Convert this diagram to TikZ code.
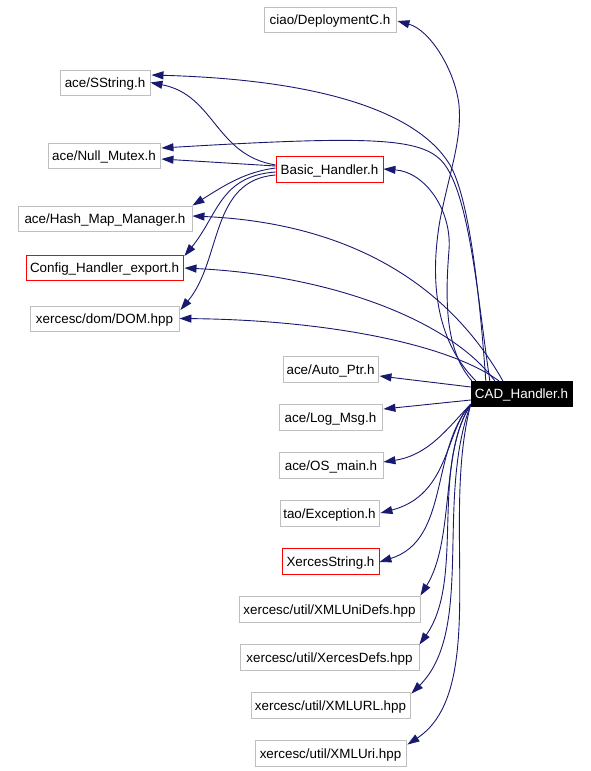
\documentclass[tikz,border=0pt]{standalone}
\usepackage{fontspec}
\setmainfont{Liberation Sans}
\usetikzlibrary{arrows.meta,calc}
\definecolor{edgeblue}{HTML}{191970}
\definecolor{boxgray}{HTML}{BFBFBF}
\begin{document}
\begin{tikzpicture}[x=1pt,y=-1pt,
  every node/.style={font=\fontsize{13.4}{15}\selectfont, inner sep=0pt, minimum height=25pt, anchor=center, text height=12pt, text depth=1.3pt},
  gbox/.style={draw=boxgray, line width=0.9pt, fill=white},
  rbox/.style={draw=red, line width=0.9pt, fill=white},
  kbox/.style={draw=black, fill=black, text=white},
  dep/.style={draw=edgeblue, line width=0.9pt, -{Triangle[length=12pt,width=8pt]}, fill=none}]
\useasboundingbox (0,0) rectangle (590,771);
% nodes
\node[gbox, minimum width=132pt] (ciao) at (330,19.5) {ciao/DeploymentC.h};
\node[gbox, minimum width=90pt] (sstring) at (105,82.5) {ace/SString.h};
\node[gbox, minimum width=112pt] (null) at (104,155.5) {ace/Null\_Mutex.h};
\node[rbox, minimum width=107pt, minimum height=26pt] (basic) at (329.5,169) {Basic\_Handler.h};
\node[gbox, minimum width=174pt] (hash) at (105,218.5) {ace/Hash\_Map\_Manager.h};
\node[rbox, minimum width=157pt] (config) at (104.5,267.5) {Config\_Handler\_export.h};
\node[gbox, minimum width=149pt] (dom) at (104.5,318.5) {xercesc/dom/DOM.hpp};
\node[gbox, minimum width=95pt, minimum height=26pt] (autoptr) at (330.5,369) {ace/Auto\_Ptr.h};
\node[kbox, minimum width=101pt] (cad) at (521.5,393.5) {CAD\_Handler.h};
\node[gbox, minimum width=103pt, minimum height=26pt] (logmsg) at (330.5,417) {ace/Log\_Msg.h};
\node[gbox, minimum width=104pt, minimum height=26pt] (osmain) at (331,465) {ace/OS\_main.h};
\node[gbox, minimum width=99pt, minimum height=26pt] (exception) at (329.5,513) {tao/Exception.h};
\node[rbox, minimum width=97pt, minimum height=26pt] (xstring) at (330.5,561) {XercesString.h};
\node[gbox, minimum width=181pt, minimum height=26pt] (unidefs) at (329.5,609) {xercesc/util/XMLUniDefs.hpp};
\node[gbox, minimum width=179pt, minimum height=26pt] (xdefs) at (329.5,657) {xercesc/util/XercesDefs.hpp};
\node[gbox, minimum width=159pt, minimum height=26pt] (xmlurl) at (330.5,705) {xercesc/util/XMLURL.hpp};
\node[gbox, minimum width=151pt, minimum height=26pt] (xmluri) at (330.5,753) {xercesc/util/XMLUri.hpp};
% edges from CAD_Handler (upper)
\draw[dep] ($(cad.north west)+(5,0)$) .. controls (440,345) and (428,290) .. (440,220)
  .. controls (450,170) and (462,140) .. (459,105) .. controls (455,70) and (430,30) .. ($(ciao.east)+(1,1.5)$);
\draw[dep] ($(cad.north west)+(1,0)$) .. controls (445,350) and (445,300) .. (449,250)
  .. controls (452,210) and (425,172) .. (basic.east);
\draw[dep] ($(cad.north west)+(15,0)$) .. controls (480,300) and (470,200) .. (450,165)
  .. controls (420,115) and (330,80) .. ($(sstring.east)+(1,-7.5)$);
\draw[dep] ($(cad.north west)+(19,0)$) .. controls (478,300) and (470,200) .. (445,165)
  .. controls (425,138) and (380,135) .. ($(null.east)+(1,-7.5)$);
\draw[dep] ($(cad.north west)+(32,0)$) .. controls (440,270) and (330,222) .. ($(hash.east)+(0,-2.5)$);
\draw[dep] ($(cad.north west)+(24,0)$) .. controls (450,320) and (330,275) .. ($(config.east)+(1,0.5)$);
\draw[dep] ($(cad.north west)+(28,0)$) .. controls (450,345) and (330,320) .. (dom.east);
% edges from CAD_Handler (side and lower)
\draw[dep] ($(cad.west)+(0,-6.5)$) -- ($(autoptr.east)+(1,7)$);
\draw[dep] ($(cad.west)+(0,6.5)$) -- ($(logmsg.east)+(1,-8)$);
\draw[dep] ($(cad.south west)+(0,-2)$) .. controls (450,425) and (430,455) .. ($(osmain.east)+(0,-3)$);
\draw[dep] ($(cad.south west)+(0,-2)$) .. controls (445,430) and (450,495) .. ($(exception.east)+(1,0)$);
\draw[dep] ($(cad.south west)+(0,-2)$) .. controls (430,450) and (450,540) .. ($(xstring.east)+(0,1)$);
\draw[dep] ($(cad.south west)+(0,-2)$) .. controls (440,450) and (455,540) .. (unidefs.north east);
\draw[dep] ($(cad.south west)+(0,-2)$) .. controls (430,470) and (465,580) .. ($(xdefs.north east)+(0,1)$);
\draw[dep] ($(cad.south west)+(0,-2)$) .. controls (435,500) and (475,630) .. ($(xmlurl.north east)+(1,2)$);
\draw[dep] ($(cad.south west)+(0,-2)$) .. controls (440,520) and (490,690) .. ($(xmluri.north east)+(1,5)$);
% edges from Basic_Handler
\draw[dep] ($(basic.west)+(0,-4)$) .. controls (215,155) and (215,95) .. (sstring.east);
\draw[dep] ($(basic.west)+(0,-3)$) -- ($(null.east)+(1,3.5)$);
\draw[dep] ($(basic.west)+(0,-1)$) .. controls (245,172) and (225,185) .. (hash.north east);
\draw[dep] ($(basic.west)+(0,3)$) .. controls (220,176) and (218,215) .. ($(config.east)+(1,-11.5)$);
\draw[dep] ($(basic.west)+(0,6)$) .. controls (210,180) and (222,260) .. ($(dom.east)+(1,-8.5)$);
\end{tikzpicture}
\end{document}
